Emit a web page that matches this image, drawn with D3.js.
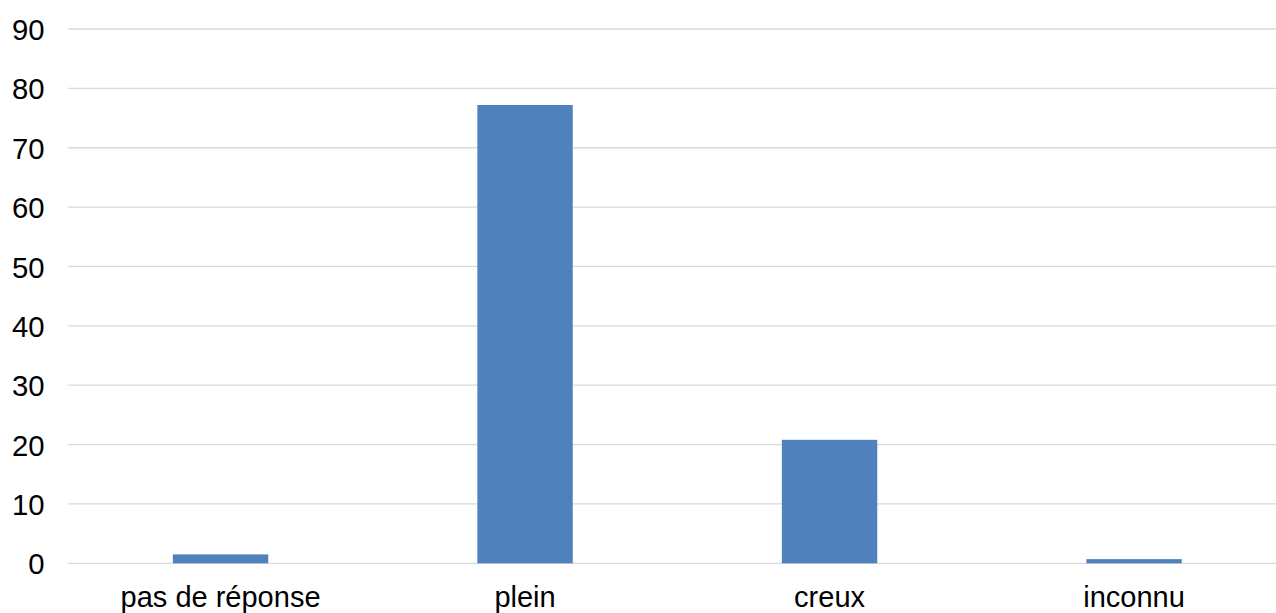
<!DOCTYPE html>
<html>
<head>
<meta charset="utf-8">
<script src="https://cdn.jsdelivr.net/npm/d3@7"></script>
<style>
  html, body { margin: 0; padding: 0; background: #fff; overflow: hidden; }
  svg { display: block; }
  text { font-family: "Liberation Sans", Arial, sans-serif; fill: #000; }
</style>
</head>
<body>
<svg id="chart" width="1276" height="613"></svg>
<script>
const categories = ["pas de réponse", "plein", "creux", "inconnu"];
const values = [1.5, 77.2, 20.8, 0.7];
const yTicks = [0, 10, 20, 30, 40, 50, 60, 70, 80, 90];

const svg = d3.select("#chart");
const left = 68.3, step = 304.5;
const x = d3.scaleBand()
  .domain(categories)
  .range([left, left + step * categories.length])
  .paddingInner(0.6867)
  .paddingOuter(0.6867 / 2);
const y = d3.scaleLinear().domain([0, 90]).range([563.3, 29]);

// gridlines
svg.append("g")
  .selectAll("line")
  .data(yTicks)
  .join("line")
  .attr("x1", left)
  .attr("x2", 1276)
  .attr("y1", d => y(d))
  .attr("y2", d => y(d))
  .attr("stroke", "#D9D9D9")
  .attr("stroke-width", 1.3);

// y axis labels
const yAxis = d3.axisLeft(y).tickValues(yTicks).tickSize(0).tickPadding(0);
const gy = svg.append("g").attr("transform", "translate(44.5,0)").call(yAxis);
gy.select(".domain").remove();
gy.selectAll("text")
  .attr("font-size", "29.3px")
  .attr("font-family", "Liberation Sans, Arial, sans-serif")
  .attr("fill", "#000")
  .attr("dy", "0.36em");

// bars
svg.append("g")
  .selectAll("rect")
  .data(values)
  .join("rect")
  .attr("x", (d, i) => x(categories[i]))
  .attr("width", x.bandwidth())
  .attr("y", d => y(d))
  .attr("height", d => y(0) - y(d))
  .attr("fill", "#4F81BD");

// x axis labels
const xAxis = d3.axisBottom(x).tickSize(0).tickPadding(0);
const gx = svg.append("g").attr("transform", "translate(0,606.5)").call(xAxis);
gx.select(".domain").remove();
gx.selectAll("text")
  .attr("font-size", "29px")
  .attr("font-family", "Liberation Sans, Arial, sans-serif")
  .attr("fill", "#000")
  .attr("dy", "0");
</script>
</body>
</html>
